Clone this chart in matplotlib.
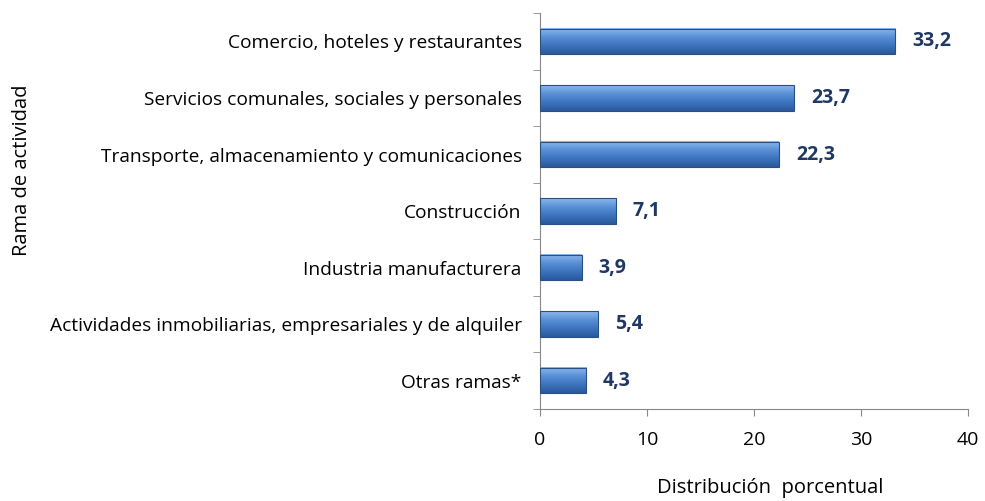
import numpy as np
import matplotlib.pyplot as plt
from matplotlib.colors import LinearSegmentedColormap

categorias = [
    "Comercio, hoteles y restaurantes",
    "Servicios comunales, sociales y personales",
    "Transporte, almacenamiento y comunicaciones",
    "Construcción",
    "Industria manufacturera",
    "Actividades inmobiliarias, empresariales y de alquiler",
    "Otras ramas*",
]
valores = [33.2, 23.7, 22.3, 7.1, 3.9, 5.4, 4.3]
etiquetas = ["33,2", "23,7", "22,3", "7,1", "3,9", "5,4", "4,3"]

plt.rcParams["font.family"] = ["Open Sans", "DejaVu Sans"]

fig = plt.figure(figsize=(9.85, 5.01), dpi=100)
ax = fig.add_axes([0.548, 0.1836, 0.435, 0.790])

grad = LinearSegmentedColormap.from_list("g", ["#2a5a9c", "#3d74bd", "#5a90d6", "#8dbaee"])
gimg = np.linspace(0, 1, 64).reshape(-1, 1)

n = len(categorias)
ys = np.arange(n)[::-1]
h = 0.45
for y, v, lab in zip(ys, valores, etiquetas):
    ax.imshow(gimg, cmap=grad, aspect="auto", origin="lower",
              extent=[0, v, y - h / 2, y + h / 2], zorder=2)
    ax.barh(y, v, height=h, color="none", edgecolor="#2b4f80", linewidth=0.8, zorder=3)
    ax.text(v + 1.6, y, lab, va="center", ha="left", fontsize=14,
            fontweight="bold", color="#1f3864")

ax.set_xlim(0, 40)
ax.set_ylim(-0.5, n - 0.5)
ax.set_xticks([0, 10, 20, 30, 40])
ax.set_yticks(ys)
ax.set_yticklabels(categorias, fontsize=13.8)
ax.set_yticks(np.arange(n + 1) - 0.5, minor=True)
ax.tick_params(axis="y", which="major", length=0, pad=13)
ax.tick_params(axis="y", which="minor", length=5, color="#888888")
ax.tick_params(axis="x", length=5, color="#888888", labelsize=14, pad=11)
for s in ["top", "right"]:
    ax.spines[s].set_visible(False)
for s in ["left", "bottom"]:
    ax.spines[s].set_color("#888888")

fig.text(770 / 985, 0.005, "Distribución  porcentual", ha="center", va="bottom", fontsize=14.5)
fig.text(0.022, 0.66, "Rama de actividad", rotation=90, ha="center", va="center", fontsize=14.5)

fig.savefig("out.png", dpi=100)
